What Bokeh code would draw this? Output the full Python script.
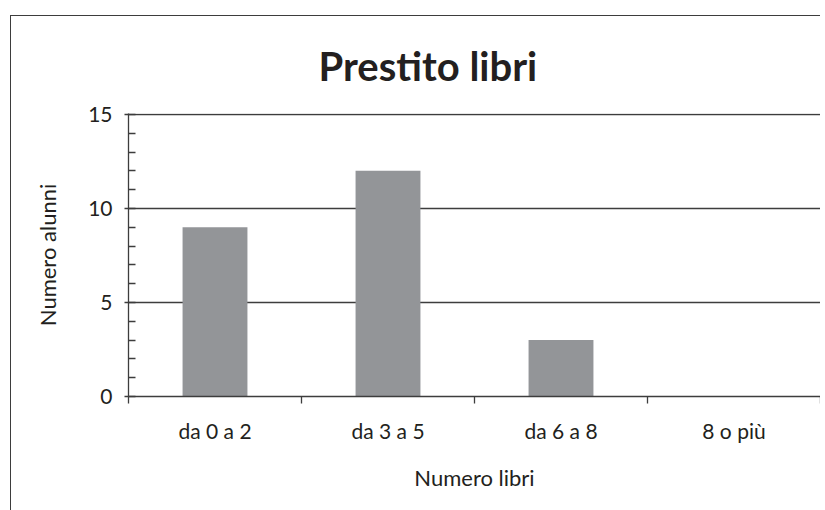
from bokeh.plotting import figure
from bokeh.models import Range1d, FixedTicker, SingleIntervalTicker
from bokeh.embed import file_html
from bokeh.resources import INLINE

categories = ["da 0 a 2", "da 3 a 5", "da 6 a 8", "8 o più"]
alunni = [9, 12, 3, 0]
y_max = 15
y_ticks_interval = 5

FONT = "Lato"
TXT = "#231f20"
LINE = "#3d3d3d"
BAR = "#939598"

centers = [i + 0.5 for i in range(len(categories))]
bounds = [float(i) for i in range(len(categories) + 1)]

p = figure(width=810, height=496, output_backend="svg", toolbar_location=None,
           x_range=Range1d(0, len(categories)), y_range=Range1d(0, y_max + 0.05),
           min_border_left=117, min_border_right=1, min_border_top=97, min_border_bottom=116)

p.styles = {"margin-left": "10px", "margin-top": "15px",
            "border-left": "1.5px solid #3d3d3d", "border-top": "1.5px solid #3d3d3d"}

p.vbar(x=centers, top=alunni, width=0.375, fill_color=BAR, line_color=None)

p.outline_line_color = None
p.background_fill_color = "white"
p.border_fill_color = "white"

# title
p.title.text = "Prestito libri"
p.title.text_font = FONT
p.title.text_font_size = "40px"
p.title.text_font_style = "bold"
p.title.text_color = TXT
p.title.align = "left"
p.title.offset = 190
p.title.standoff = 47

# x axis
xa = p.xaxis[0]
xa.ticker = FixedTicker(ticks=centers, minor_ticks=bounds)
xa.major_label_overrides = {c: lab for c, lab in zip(centers, categories)}
xa.major_tick_line_color = None
xa.major_tick_out = 0
xa.major_tick_in = 0
xa.minor_tick_out = 7
xa.minor_tick_in = 0
xa.minor_tick_line_color = LINE
xa.minor_tick_line_width = 1.3
xa.axis_line_color = LINE
xa.axis_line_width = 1.3
xa.major_label_text_font = FONT
xa.major_label_text_font_size = "21px"
xa.major_label_text_color = TXT
xa.major_label_standoff = 14
xa.axis_label = "Numero libri"
xa.axis_label_text_font = FONT
xa.axis_label_text_font_size = "22px"
xa.axis_label_text_font_style = "normal"
xa.axis_label_text_color = TXT
xa.axis_label_standoff = 18

# y axis
ya = p.yaxis[0]
ya.ticker = SingleIntervalTicker(interval=y_ticks_interval, num_minor_ticks=5)
ya.major_tick_out = 4
ya.major_tick_in = 0
ya.major_tick_line_color = LINE
ya.major_tick_line_width = 1.3
ya.minor_tick_in = 7
ya.minor_tick_out = 0
ya.minor_tick_line_color = LINE
ya.minor_tick_line_width = 1.3
ya.axis_line_color = LINE
ya.axis_line_width = 1.3
ya.major_label_text_font = FONT
ya.major_label_text_font_size = "21px"
ya.major_label_text_color = TXT
ya.major_label_standoff = 12
ya.axis_label = "Numero alunni"
ya.axis_label_text_font = FONT
ya.axis_label_text_font_size = "22px"
ya.axis_label_text_font_style = "normal"
ya.axis_label_text_color = TXT
ya.axis_label_standoff = 24

p.xgrid.visible = False
p.ygrid.ticker = SingleIntervalTicker(interval=y_ticks_interval)
p.ygrid.grid_line_color = LINE
p.ygrid.grid_line_width = 1.3

open("out.html", "w").write(file_html(p, INLINE))
